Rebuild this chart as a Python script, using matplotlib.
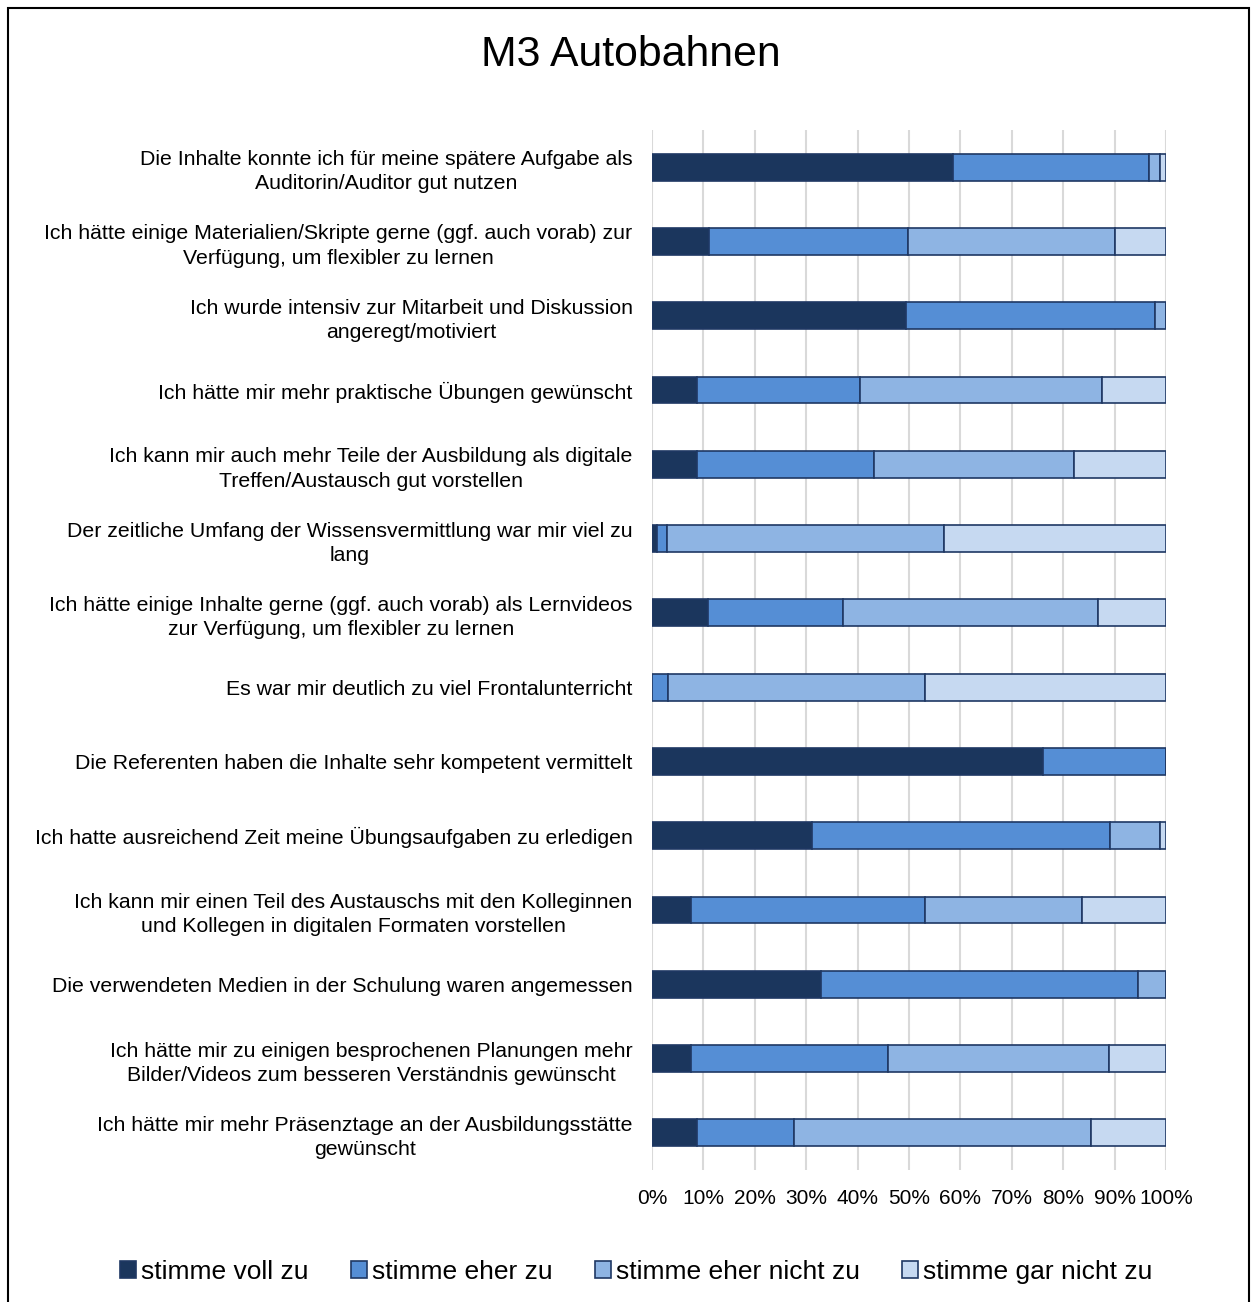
import matplotlib.pyplot as plt
from matplotlib.patches import Rectangle
from matplotlib.ticker import PercentFormatter

plt.rcParams['font.family'] = ['Liberation Sans', 'DejaVu Sans']

# Fragen (von oben nach unten)
fragen = [
    "Die Inhalte konnte ich für meine spätere Aufgabe als\nAuditorin/Auditor gut nutzen",
    "Ich hätte einige Materialien/Skripte gerne (ggf. auch vorab) zur\nVerfügung, um flexibler zu lernen",
    "Ich wurde intensiv zur Mitarbeit und Diskussion\nangeregt/motiviert",
    "Ich hätte mir mehr praktische Übungen gewünscht",
    "Ich kann mir auch mehr Teile der Ausbildung als digitale\nTreffen/Austausch gut vorstellen",
    "Der zeitliche Umfang der Wissensvermittlung war mir viel zu\nlang",
    "Ich hätte einige Inhalte gerne (ggf. auch vorab) als Lernvideos\nzur Verfügung, um flexibler zu lernen",
    "Es war mir deutlich zu viel Frontalunterricht",
    "Die Referenten haben die Inhalte sehr kompetent vermittelt",
    "Ich hatte ausreichend Zeit meine Übungsaufgaben zu erledigen",
    "Ich kann mir einen Teil des Austauschs mit den Kolleginnen\nund Kollegen in digitalen Formaten vorstellen",
    "Die verwendeten Medien in der Schulung waren angemessen",
    "Ich hätte mir zu einigen besprochenen Planungen mehr\nBilder/Videos zum besseren Verständnis gewünscht",
    "Ich hätte mir mehr Präsenztage an der Ausbildungsstätte\ngewünscht",
]

voll      = [58.6, 11.1, 49.5,  8.7,  8.8,  0.9, 10.9,  0.0, 76.1, 31.2,  7.6, 32.8,  7.6,  8.8]
eher      = [38.1, 38.7, 48.4, 31.7, 34.4,  2.1, 26.3,  3.2, 23.9, 57.9, 45.6, 61.7, 38.3, 18.8]
eher_nich = [ 2.2, 40.2,  2.1, 47.1, 38.9, 53.9, 49.6, 50.0,  0.0,  9.8, 30.4,  5.5, 43.1, 57.9]
gar_nicht = [ 1.1, 10.0,  0.0, 12.5, 17.9, 43.1, 13.2, 46.8,  0.0,  1.1, 16.4,  0.0, 11.0, 14.5]

serien = ["stimme voll zu", "stimme eher zu", "stimme eher nicht zu", "stimme gar nicht zu"]
farben = ["#1B365D", "#558ED5", "#8EB4E3", "#C6D9F1"]
rand = "#1F3864"

fig = plt.figure(figsize=(12.53, 13.02), dpi=100)
ax = fig.add_axes([652/1253, 1 - 1170/1302, (1166-652)/1253, (1170-130)/1302])

y = list(range(len(fragen)))
links = [0.0] * len(fragen)
for name, werte, farbe in zip(serien, [voll, eher, eher_nich, gar_nicht], farben):
    ax.barh(y, werte, left=links, height=0.36, color=farbe, edgecolor=rand,
            linewidth=1.2, label=name, zorder=3)
    links = [a + b for a, b in zip(links, werte)]

ax.set_xlim(0, 100)
ax.set_ylim(len(fragen) - 0.5, -0.5)
ax.set_xticks(range(0, 101, 10))
ax.xaxis.set_major_formatter(PercentFormatter(decimals=0))
ax.set_yticks(y)
ax.set_yticklabels(fragen, fontsize=15.3, multialignment='center', linespacing=1.35)
ax.tick_params(axis='both', length=0)
ax.tick_params(axis='x', labelsize=15, pad=14)
ax.tick_params(axis='y', pad=14)
ax.grid(axis='x', color='#D9D9D9', linewidth=1.5, zorder=0)
for s in ax.spines.values():
    s.set_visible(False)

fig.text(631/1253, 1 - 55/1302, "M3 Autobahnen", ha='center', va='center', fontsize=30.8)

fig.legend(loc='center', bbox_to_anchor=(0.508, 1 - 1272/1302), ncol=4, frameon=False,
           fontsize=19, handlelength=0.6, handleheight=0.6, handletextpad=0.2,
           columnspacing=1.6)

fig.add_artist(Rectangle((8/1253, -0.05), (1249-8)/1253, 1.05 - 8/1302,
                         transform=fig.transFigure, fill=False, edgecolor='black',
                         linewidth=1.5))

fig.savefig("out.png", dpi=100)
